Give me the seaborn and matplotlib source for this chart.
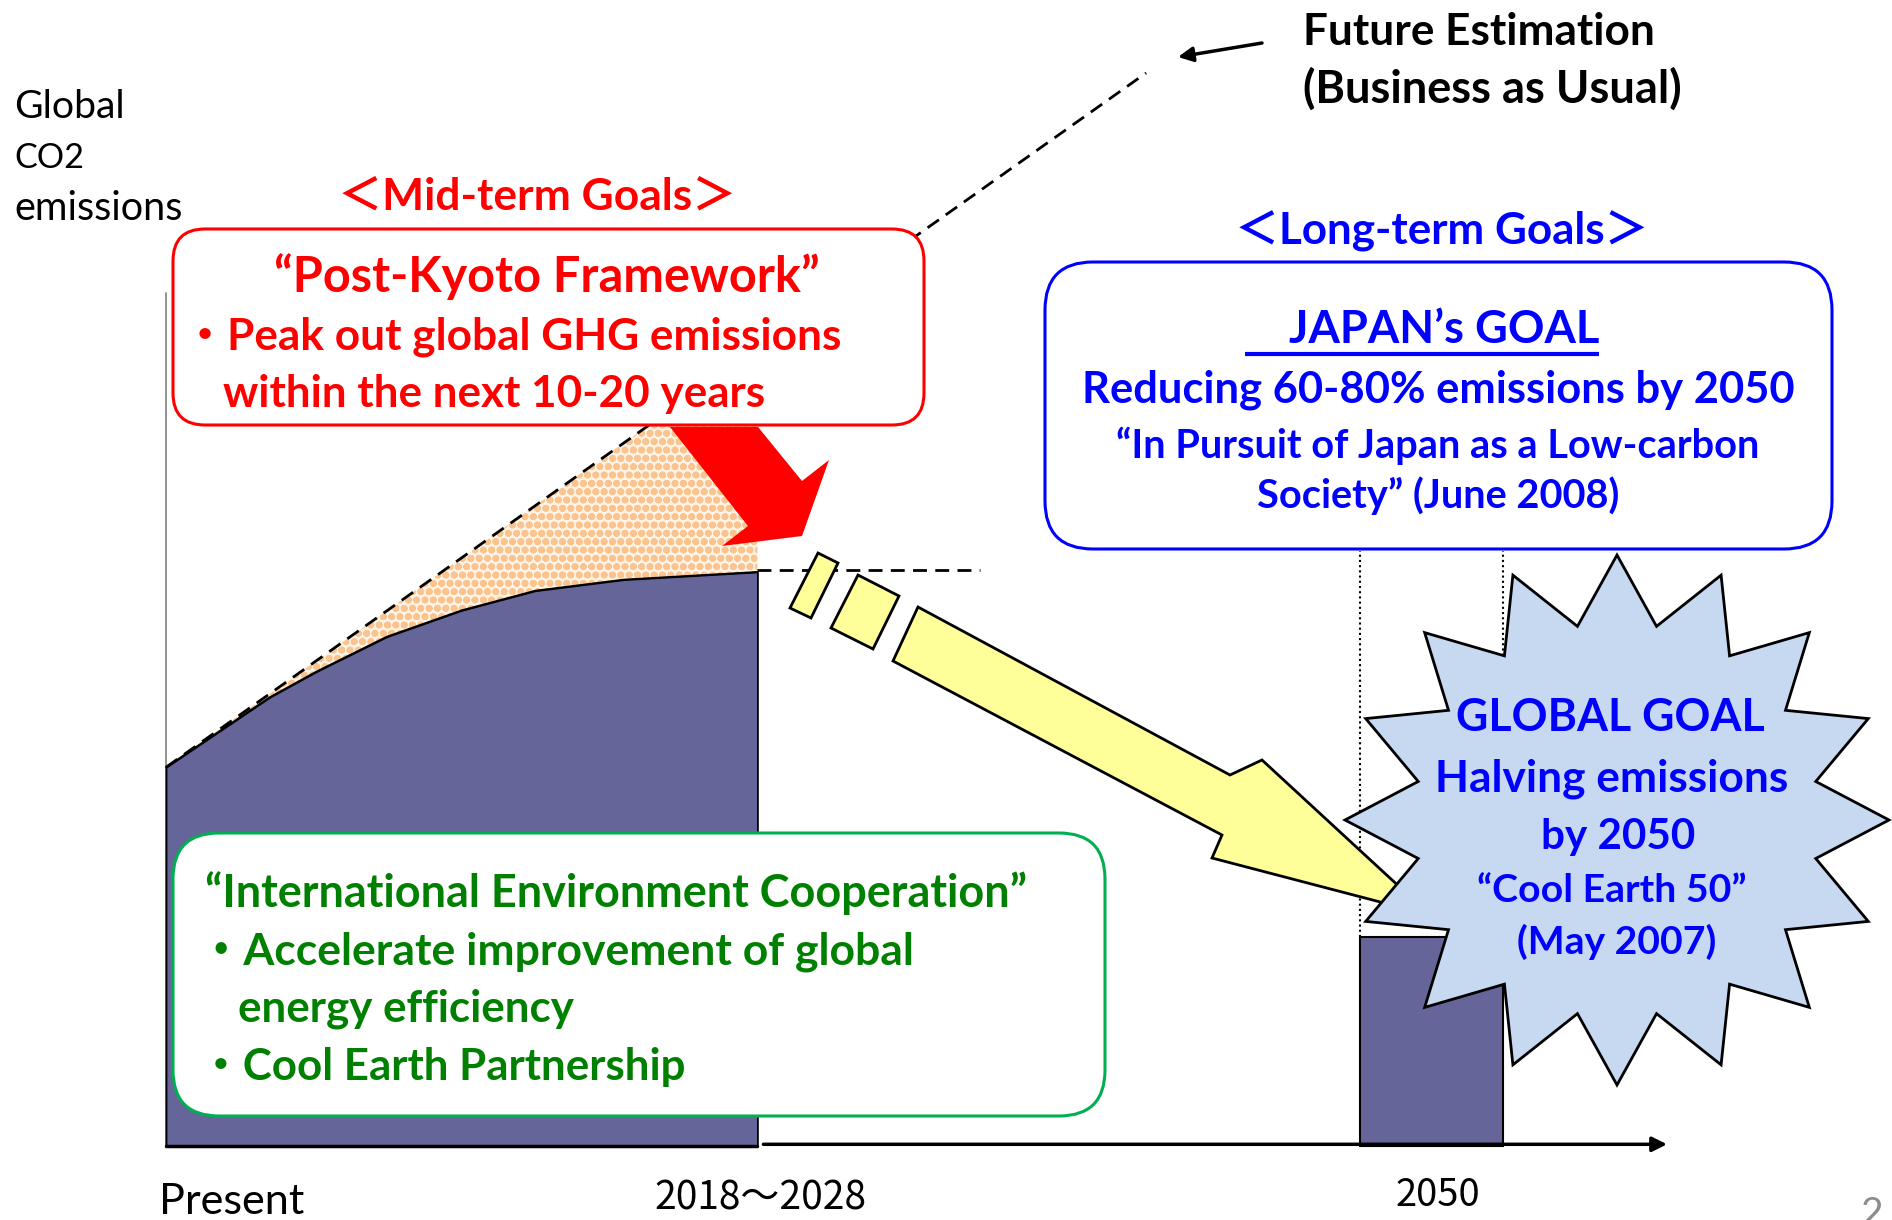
import numpy as np
import matplotlib
matplotlib.use("Agg")
import matplotlib.pyplot as plt
from matplotlib.patches import FancyBboxPatch, Polygon
import seaborn as sns

# Canvas size in pixels (dpi 100)
W, H = 1892, 1220

# Schematic emissions data (time index 0..100, emission index 0..100)
time_idx = [0, 6.9, 10.0, 14.7, 19.7, 24.6, 30.5, 39.4]
emissions = [44.4, 52.6, 55.6, 59.7, 62.8, 65.1, 66.4, 67.3]
bau_time = [0, 65.3]
bau_emissions = [44.4, 125.8]
peak_time = [39.4, 54.2]
peak_level = 67.5
goal_2050_time = 84.3
goal_2050_width = 9.5
goal_2050_level = 24.5
japan_goal_level = 69.8

axis_labels = ["Global", "CO2", "emissions"]
time_labels = ["Present", "2018〜2028", "2050"]

mid_title = "＜Mid-term Goals＞"
mid_lines = ["“Post-Kyoto Framework”",
             "・Peak out global GHG emissions",
             "within the next 10-20 years"]
long_title = "＜Long-term Goals＞"
japan_lines = ["JAPAN’s GOAL",
               "Reducing 60-80% emissions by 2050",
               "“In Pursuit of Japan as a Low-carbon",
               "Society” (June 2008)"]
global_lines = ["GLOBAL GOAL", "Halving emissions", "by 2050",
                "“Cool Earth 50”", "(May 2007)"]
coop_lines = ["“International Environment Cooperation”",
              "・Accelerate improvement of global",
              "energy efficiency",
              "・Cool Earth Partnership"]
bau_note = ["Future Estimation", "(Business as Usual)"]

# Colours
PURPLE = "#65659A"
RED = "#FF0000"
BLUE = "#0000FF"
GREEN_TXT = "#008000"
GREEN_EDGE = "#00B050"
YELLOW = "#FFFF99"
STAR_BLUE = "#C6D9F1"

FONT = ["Lato", "Noto Sans CJK JP"]
NARROW = ["Liberation Sans Narrow", "Noto Sans CJK JP"]
DY = 4  # small downward nudge of all text lines

sns.set_theme(style="white")
plt.rcParams["font.family"] = FONT
plt.rcParams["hatch.linewidth"] = 2.5

fig = plt.figure(figsize=(W / 100, H / 100), dpi=100)
renderer = fig.canvas.get_renderer()

# chart axes: maps the schematic units onto the plot region of the slide
PX_LEFT, PX_RIGHT, PX_BASE, PX_TOP = 166, 1667, 1146, 293
sx = (PX_RIGHT - PX_LEFT) / 100.0
sy = (PX_BASE - PX_TOP) / 100.0
ax = fig.add_axes([0, 0, 1, 1], zorder=1)
ax.set_xlim(-PX_LEFT / sx, (W - PX_LEFT) / sx)
ax.set_ylim(-(H - PX_BASE) / sy, PX_BASE / sy)
ax.axis("off")

# drawing axes in pixel coords for boxes / arrows / text
dr = fig.add_axes([0, 0, 1, 1], zorder=2)
dr.set_xlim(0, W)
dr.set_ylim(H, 0)
dr.axis("off")
dr.patch.set_alpha(0)

# --- emissions chart ---
bau_on_curve = np.interp(time_idx, bau_time, bau_emissions)
ax.fill_between(time_idx, emissions, bau_on_curve, facecolor="#FFF3E6",
                edgecolor="#FBC48E", hatch="oo", linewidth=0, zorder=1)
ax.fill_between(time_idx, 0, emissions, facecolor=PURPLE, edgecolor="black",
                linewidth=1.3, zorder=2)
sns.lineplot(x=time_idx, y=emissions, ax=ax, color="black", linewidth=1.3,
             zorder=3)
sns.lineplot(x=bau_time, y=bau_emissions, ax=ax, color="black", linewidth=2,
             linestyle=(0, (5, 3)), zorder=3)
ax.plot(peak_time, [peak_level] * 2, color="black", lw=2,
        linestyle=(0, (5, 3)), zorder=3)
ax.plot([0, 0], [0, 100], color="#808080", lw=1.2, zorder=0)
ax.plot([0, time_idx[-1]], [0, 0], color="black", lw=2.5, zorder=4)
ax.annotate("", xy=(100, 0.2), xytext=(time_idx[-1] + 0.4, 0.2),
            arrowprops=dict(arrowstyle="-|>", color="black", lw=2.5,
                            mutation_scale=22, shrinkA=0, shrinkB=0))

# 2050 goal bar and dotted guides
ax.bar(goal_2050_time, goal_2050_level, width=goal_2050_width, color=PURPLE,
       edgecolor="black", linewidth=1.5, zorder=2)
for gx in (goal_2050_time - goal_2050_width / 2, goal_2050_time + goal_2050_width / 2):
    ax.plot([gx, gx], [goal_2050_level, japan_goal_level], color="black",
            lw=1.5, linestyle=(0, (1, 1.5)), zorder=1)


def put(x, y, s, width, color="black", weight="bold", ha="left", family=FONT,
        ax_=dr):
    t = ax_.text(x, y + DY, s, color=color, fontweight=weight, ha=ha,
                 va="center", family=family, fontsize=30)
    w = t.get_window_extent(renderer).width
    t.set_fontsize(30 * width / w)
    return t


def underline(t, left_extra, right_extra, drop):
    bb = t.get_window_extent(renderer).transformed(dr.transData.inverted())
    y = (bb.y0 + bb.y1) / 2 + drop
    dr.plot([bb.x0 - left_extra, bb.x1 + right_extra], [y, y], color=BLUE,
            lw=3, solid_capstyle="butt")


def rbox(x0, y0, x1, y1, r, edge):
    dr.add_patch(FancyBboxPatch((x0, y0), x1 - x0, y1 - y0,
                                boxstyle=f"round,pad=0,rounding_size={r}",
                                facecolor="white", edgecolor=edge, lw=2.2,
                                zorder=2))


# --- mid-term goals (red) ---
rbox(173, 229, 924, 425, 32, RED)
dr.add_patch(Polygon([(670, 427), (758, 427), (802, 481), (829, 460),
                      (802, 536), (722, 546), (748, 526)],
                     closed=True, facecolor=RED, edgecolor="none", zorder=2))
put(537, 193, mid_title, 398, RED, ha="center")
put(547, 273, mid_lines[0], 545, RED, ha="center")
put(183, 333, mid_lines[1], 658, RED)
put(223, 390, mid_lines[2], 542, RED)

# --- yellow dashed arrow towards the 2050 goal ---
for pts in ([(818, 553), (838, 563), (811, 618), (790, 608)],
            [(858, 575), (899, 596), (873, 649), (831, 628)],
            [(918, 607), (1230, 775), (1262, 760), (1430, 915),
             (1212, 858), (1222, 835), (893, 661)]):
    dr.add_patch(Polygon(pts, closed=True, facecolor=YELLOW,
                         edgecolor="black", lw=2, zorder=2))

# --- long-term goals (blue box) ---
rbox(1045, 262, 1832, 549, 48, BLUE)
put(1442, 227, long_title, 414, BLUE, ha="center")
t = put(1444, 326, japan_lines[0], 310, BLUE, ha="center")
underline(t, 44, 0, 24)
put(1438, 386, japan_lines[1], 712, BLUE, ha="center")
put(1438, 442, japan_lines[2], 642, BLUE, ha="center")
put(1438, 492, japan_lines[3], 362, BLUE, ha="center")

# --- global goal star ---
n_pts = 16
k = np.arange(2 * n_pts)
ang = np.pi / 2 + k * np.pi / n_pts
rad = np.where(k % 2 == 0, 1.0, 0.745)
star_x = 1617 + 272 * rad * np.cos(ang)
star_y = 820 - 265 * rad * np.sin(ang)
dr.add_patch(Polygon(np.column_stack([star_x, star_y]), closed=True,
                     facecolor=STAR_BLUE, edgecolor="black", lw=2, zorder=3))
star_text = [(1610, 714, 308), (1612, 775, 353), (1618, 833, 154),
             (1612, 886, 269), (1617, 938, 199)]
for s, (x, y, w) in zip(global_lines, star_text):
    t = put(x, y, s, w, BLUE, ha="center")
    t.set_zorder(4)
    if s == global_lines[0]:
        underline(t, 4, 16, 23)

# --- international cooperation (green box) ---
rbox(173, 833, 1105, 1116, 46, GREEN_EDGE)
put(205, 889, coop_lines[0], 823, GREEN_TXT)
put(199, 948, coop_lines[1], 714, GREEN_TXT)
put(238, 1005, coop_lines[2], 336, GREEN_TXT)
put(199, 1063, coop_lines[3], 486, GREEN_TXT)

# --- BAU note ---
put(1303, 28, bau_note[0], 352)
put(1303, 85, bau_note[1], 377)
dr.annotate("", xy=(1178, 57), xytext=(1262, 43),
            arrowprops=dict(arrowstyle="-|>", color="black", lw=2.5,
                            mutation_scale=22, shrinkA=0, shrinkB=0))

# --- axis labels ---
for s, y, w in zip(axis_labels, [103, 154, 205], [111, 70, 169]):
    put(14, y, s, w, weight="normal")
put(159, 1198, time_labels[0], 145, weight="normal")
put(760, 1195, time_labels[1], 212, weight="normal", ha="center", family=NARROW)
put(1438, 1192, time_labels[2], 85, weight="normal", ha="center", family=NARROW)

# slide number (cut by the slide edge, as in the source)
dr.text(1860, 1196, "2", color="#8C8C8C", fontsize=28, va="top", ha="left",
        family=FONT)

fig.savefig("out.png", dpi=100)
